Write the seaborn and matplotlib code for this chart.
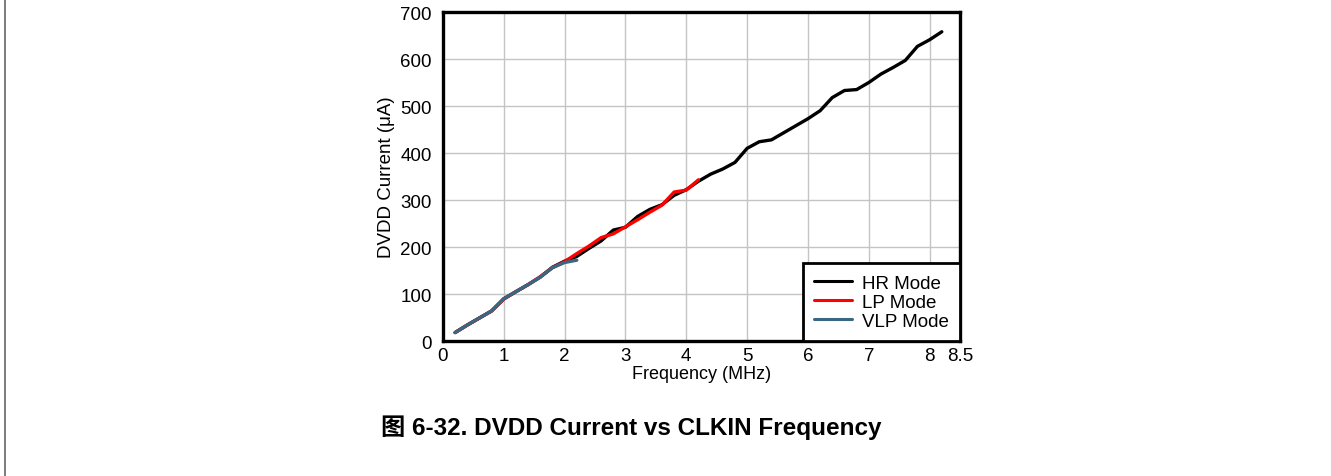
import matplotlib
matplotlib.use("Agg")
import matplotlib.pyplot as plt
import matplotlib.lines as mlines
import seaborn as sns
import pandas as pd

# Frequency (MHz) / DVDD current (uA)
hr_freq = [0.2, 0.4, 0.6, 0.8, 1.0, 1.2, 1.4, 1.6, 1.8, 2.0, 2.2, 2.4, 2.6, 2.8,
           3.0, 3.2, 3.4, 3.6, 3.8, 4.0, 4.2, 4.4, 4.6, 4.8, 5.0, 5.2, 5.4, 5.6,
           5.8, 6.0, 6.2, 6.4, 6.6, 6.8, 7.0, 7.2, 7.4, 7.6, 7.8, 8.0, 8.2]
hr_current = [18, 34, 49, 64, 90, 105, 120, 136, 157, 170, 180, 197, 213, 236,
              242, 265, 280, 290, 310, 322, 340, 355, 366, 380, 410, 424, 428, 443,
              458, 473, 490, 518, 533, 535, 550, 568, 582, 597, 627, 641, 658]

lp_freq = [0.2, 0.4, 0.6, 0.8, 1.0, 1.2, 1.4, 1.6, 1.8, 2.0, 2.2, 2.4, 2.6, 2.8,
           3.0, 3.2, 3.4, 3.6, 3.8, 4.0, 4.2]
lp_current = [18, 34, 49, 64, 89, 105, 120, 137, 156, 169, 186, 202, 220, 228,
              243, 258, 274, 289, 317, 321, 343]

vlp_freq = [0.2, 0.4, 0.6, 0.8, 1.0, 1.2, 1.4, 1.6, 1.8, 2.0, 2.2]
vlp_current = [18, 34, 49, 64, 90, 105, 120, 136, 156, 167, 172]

modes = ["HR Mode", "LP Mode", "VLP Mode"]
colors = ["#000000", "#ff0000", "#3b6682"]

x_ticks = [0, 1, 2, 3, 4, 5, 6, 7, 8, 8.5]
x_tick_labels = ["0", "1", "2", "3", "4", "5", "6", "7", "8", "8.5"]
y_ticks = [0, 100, 200, 300, 400, 500, 600, 700]

df = pd.concat([
    pd.DataFrame({"freq": hr_freq, "current": hr_current, "mode": modes[0]}),
    pd.DataFrame({"freq": lp_freq, "current": lp_current, "mode": modes[1]}),
    pd.DataFrame({"freq": vlp_freq, "current": vlp_current, "mode": modes[2]}),
])

sns.set_theme(style="white")
plt.rcParams["font.family"] = ["Liberation Sans", "Noto Sans CJK SC", "DejaVu Sans"]
plt.rcParams["text.color"] = "black"
plt.rcParams["axes.labelcolor"] = "black"

fig = plt.figure(figsize=(13.31, 4.77), dpi=100)
ax = fig.add_axes([0.3328, 0.283, 0.3885, 0.6897])

sns.lineplot(data=df, x="freq", y="current", hue="mode", hue_order=modes,
             palette=dict(zip(modes, colors)), linewidth=2.4, ax=ax,
             legend=False, estimator=None, sort=False)

ax.set_xlim(0, 8.5)
ax.set_ylim(0, 700)
ax.set_xticks(x_ticks)
ax.set_xticklabels(x_tick_labels)
ax.set_yticks(y_ticks)
ax.tick_params(axis="both", length=0, labelsize=13.5, colors="black")
ax.tick_params(axis="x", pad=4)
ax.tick_params(axis="y", pad=8)
ax.grid(True, color="#c4c4c4", linewidth=1.0)
ax.set_axisbelow(True)
for s in ax.spines.values():
    s.set_color("black")
    s.set_linewidth(2.4)

ax.set_xlabel("Frequency (MHz)", fontsize=13, labelpad=1)
ax.set_ylabel("DVDD Current (μA)", fontsize=13.5, labelpad=4)

handles = [mlines.Line2D([], [], color=c, linewidth=2.2) for c in colors]
leg = ax.legend(handles, modes, loc="lower right", bbox_to_anchor=(1.0, 0.0),
                borderaxespad=0, frameon=True, fancybox=False, fontsize=13.5,
                handlelength=2.0, handletextpad=0.55, labelspacing=0.1,
                borderpad=0.6)
leg.get_frame().set_edgecolor("black")
leg.get_frame().set_linewidth(2.0)
leg.get_frame().set_alpha(1)

fig.text(0.474, 0.103, "图 6-32. DVDD Current vs CLKIN Frequency", ha="center",
         va="center", fontsize=17.5, fontweight="bold", color="black")

fig.add_artist(mlines.Line2D([0.0038, 0.0038], [0, 1], color="#666666",
                             linewidth=1.2, transform=fig.transFigure))

fig.savefig("out.png", dpi=100)
